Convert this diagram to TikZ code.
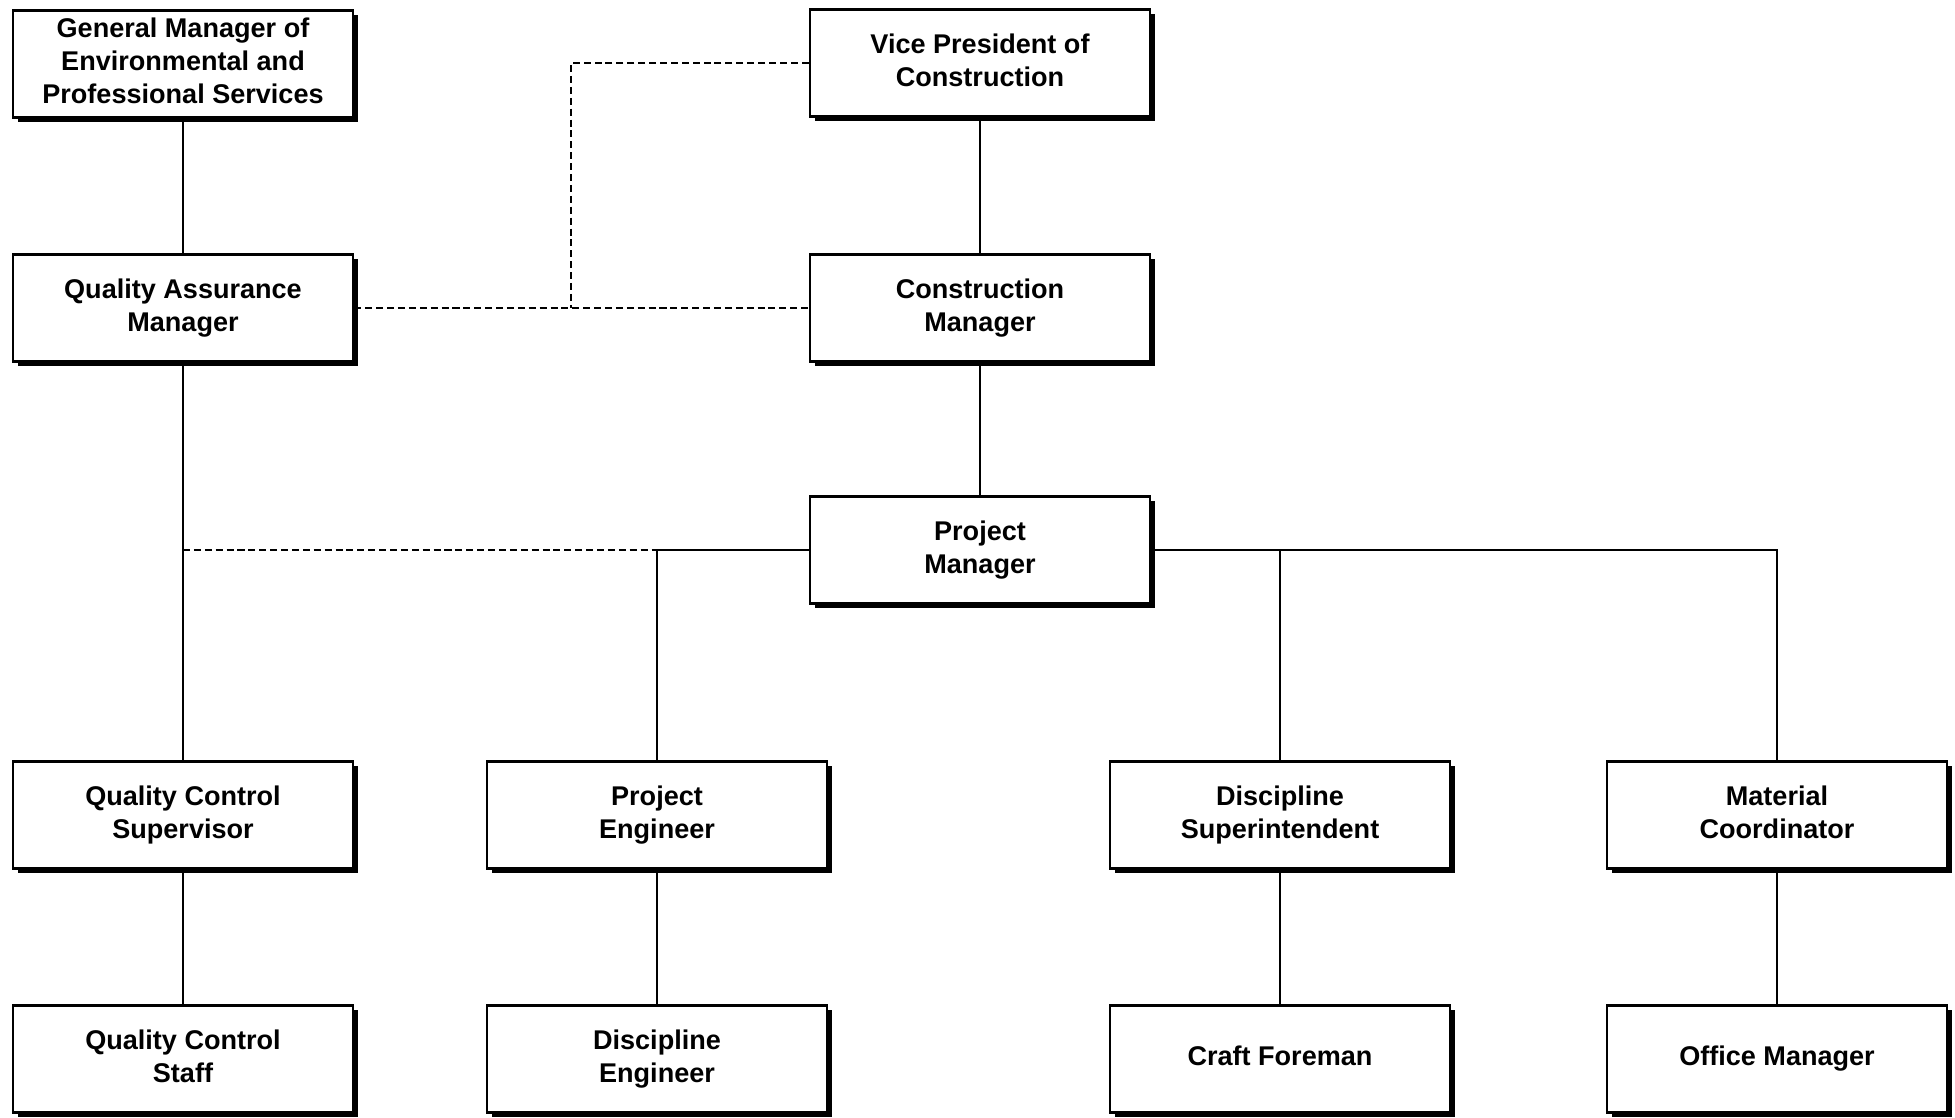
\documentclass[tikz,border=0pt]{standalone}
\usepackage{fontspec}
\setsansfont{Liberation Sans}
\usetikzlibrary{shadows}
\begin{document}
\begin{tikzpicture}
      \tikzset{post/.style={draw, thick, rectangle, fill=white, minimum width=3.40cm, minimum height=1.07cm, align=center,
               inner ysep=2pt, font=\sffamily\bfseries\fontsize{7.7}{9.4}\selectfont,
               execute at end node=\vphantom{g},
               drop shadow={shadow xshift=0.05cm, shadow yshift=-0.045cm, fill=black, opacity=1}},
               dotline/.style={thick, dash pattern=on 2pt off 1.1pt}}
      \useasboundingbox (0,0) rectangle (19.55,11.18);
%% Boxes
	%top
      	\node[post] (gm) at (1.83,10.54) {General Manager of\\Environmental and\\Professional Services};
      	\node[post] (vp) at (9.80,10.55) {Vice President of\\Construction};
	%managers
      	\node[post] (qa) at (1.83,8.10) {Quality Assurance\\Manager};
      	\node[post] (cm) at (9.80,8.10) {Construction\\Manager};
      	\node[post] (pm) at (9.80,5.68) {Project\\Manager};
	%third row
      	\node[post] (qcs) at (1.83,3.03) {Quality Control\\Supervisor};
      	\node[post] (pe) at (6.57,3.03) {Project\\Engineer};
      	\node[post] (ds) at (12.80,3.03) {Discipline\\Superintendent};
      	\node[post] (mc) at (17.77,3.03) {Material\\Coordinator};
	%bottom row
      	\node[post] (qst) at (1.83,0.59) {Quality Control\\Staff};
      	\node[post] (de) at (6.57,0.59) {Discipline\\Engineer};
      	\node[post] (cf) at (12.80,0.59) {Craft Foreman};
      	\node[post] (om) at (17.77,0.59) {Office Manager};
%Junctions
      	\coordinate (vpj) at (5.71,8.10);
      	\coordinate (qaj) at (qa.south |- pm.west);
      	\coordinate (pej) at (pe.north |- pm.west);
%Lines
	%solid
		\path [thick] (gm) edge (qa);
		\path [thick] (vp) edge (cm);
		\path [thick] (cm) edge (pm);
		\path [thick] (qa) edge (qcs);
		\path [thick] (qcs) edge (qst);
		\draw [thick] (pm.west) -| (pe.north);
		\draw [thick] (pm.east) -| (ds.north);
		\draw [thick] (pm.east) -| (mc.north);
		\path [thick] (pe) edge (de);
		\path [thick] (ds) edge (cf);
		\path [thick] (mc) edge (om);
	%dotted
		\draw [dotline] (qa.east) -- (cm.west);
		\draw [dotline] (vp.west) -| (vpj);
		\draw [dotline] (qaj) -- (pej);

\end{tikzpicture}
\end{document}
